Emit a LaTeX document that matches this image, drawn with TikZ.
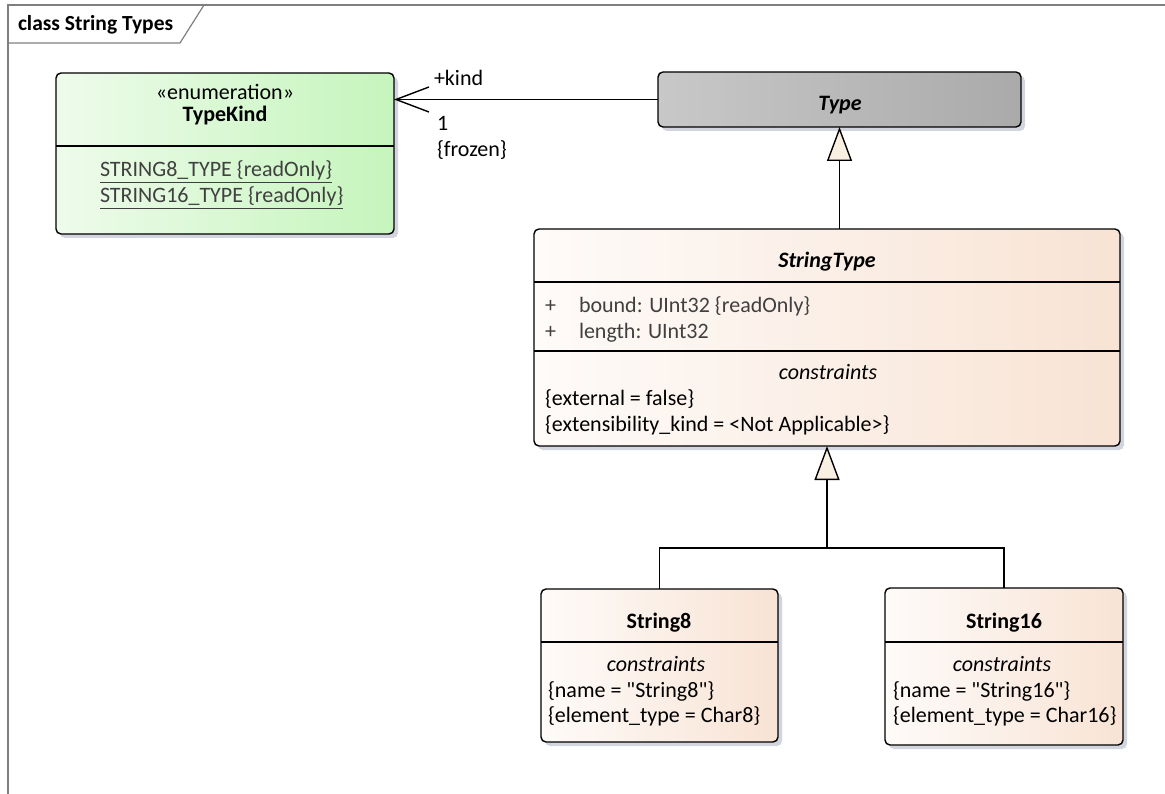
\documentclass[tikz,border=0pt]{standalone}
\usepackage{fontspec}
\setmainfont{Carlito}[Ligatures=TeXOff]
\usetikzlibrary{arrows.meta,shadows}
\definecolor{classL}{HTML}{FEFBF9}
\definecolor{classR}{HTML}{F8E3D4}
\definecolor{typeL}{HTML}{C8C8C8}
\definecolor{typeR}{HTML}{AAAAAA}
\definecolor{enumL}{HTML}{EEFBEB}
\definecolor{enumR}{HTML}{C5F5BC}
\definecolor{shadowc}{HTML}{D2D5DD}
\definecolor{trifill}{HTML}{FAF0E2}
\definecolor{framec}{HTML}{7F7F7F}
\definecolor{attrc}{HTML}{404040}
\begin{document}
\begin{tikzpicture}[x=1pt,y=-1pt,
  box/.style={draw=black,line width=1.4pt,rounded corners=5pt,anchor=north west,
    inner sep=0pt,outer sep=0pt,
    drop shadow={shadow xshift=4pt,shadow yshift=-4pt,fill=shadowc,opacity=1}},
  classbox/.style={box,left color=classL,right color=classR},
  typebox/.style={box,left color=typeL,right color=typeR},
  enumbox/.style={box,left color=enumL,right color=enumR},
  sep/.style={draw=black,line width=1.4pt},
  txt/.style={inner sep=0pt,outer sep=0pt,font=\fontsize{22}{26}\selectfont,anchor=base},
  ltxt/.style={txt,anchor=base west},
  gtxt/.style={ltxt,text=attrc},
  conn/.style={draw=black,line width=1.4pt},
  gen/.style={conn,-{Triangle[length=34pt,width=25pt,fill=trifill,line width=1.4pt]}},
  assoc/.style={conn,-{Straight Barb[length=33pt,width=25pt,line width=1.4pt]}}
]
\useasboundingbox (0,0) rectangle (1165,794);
% frame
\coordinate (fbl) at (8,794);
\coordinate (ftl) at (8,5);
\coordinate (ftr) at (1165,5);
\coordinate (tabb) at (8,43);
\coordinate (tabc) at (180,43);
\coordinate (tabr) at (204,5);
\draw[framec,line width=1.6pt] (fbl) -- (ftl) -- (ftr);
\draw[framec,line width=1.2pt] (tabb) -- (tabc) -- (tabr);
\node[ltxt,font=\fontsize{21.5}{26}\selectfont\bfseries] (title) at (18,31) {class String Types};

% TypeKind
\node[enumbox,minimum width=338pt,minimum height=161pt] (typekind) at (56,73) {};
\draw[sep] (typekind.west |- 0,146) -- (typekind.east |- 0,146);
\node[txt] (tkst) at (225,100) {«enumeration»};
\node[txt,font=\fontsize{22}{26}\selectfont\bfseries] (tkname) at (225,122) {TypeKind};
\node[gtxt] (tk1) at (100,177) {\underline{STRING8\_TYPE \{readOnly\}}};
\node[gtxt] (tk2) at (100,203) {\underline{STRING16\_TYPE \{readOnly\}}};

% Type
\node[typebox,minimum width=363pt,minimum height=55pt] (type) at (658,72) {};
\node[txt,font=\fontsize{22}{26}\selectfont\bfseries\itshape] (typename) at (840,111) {Type};

% StringType
\node[classbox,minimum width=586pt,minimum height=217pt] (stringtype) at (534,229) {};
\draw[sep] (stringtype.west |- 0,282) -- (stringtype.east |- 0,282);
\draw[sep] (stringtype.west |- 0,351) -- (stringtype.east |- 0,351);
\node[txt,font=\fontsize{22}{26}\selectfont\bfseries\itshape] (stname) at (827,268) {StringType};
\node[gtxt] (stp1) at (545,313) {+};
\node[gtxt] (sta1) at (579,313) {bound: UInt32 \{readOnly\}};
\node[gtxt] (stp2) at (545,338) {+};
\node[gtxt] (sta2) at (579,338) {length: UInt32};
\node[txt,font=\fontsize{22}{26}\selectfont\itshape] (stc) at (828,380) {constraints};
\node[ltxt] (stc1) at (545,406) {\{external = false\}};
\node[ltxt] (stc2) at (545,431) {\{extensibility\_kind = <Not Applicable>\}};

% String8
\node[classbox,minimum width=237pt,minimum height=153pt] (string8) at (541,589) {};
\draw[sep] (string8.west |- 0,642) -- (string8.east |- 0,642);
\node[txt,font=\fontsize{22}{26}\selectfont\bfseries] (s8name) at (659,628) {String8};
\node[txt,font=\fontsize{22}{26}\selectfont\itshape] (s8c) at (656,671) {constraints};
\node[ltxt] (s8c1) at (548,697) {\{name = "String8"\}};
\node[ltxt] (s8c2) at (548,722) {\{element\_type = Char8\}};

% String16
\node[classbox,minimum width=238pt,minimum height=157pt] (string16) at (885,588) {};
\draw[sep] (string16.west |- 0,642) -- (string16.east |- 0,642);
\node[txt,font=\fontsize{22}{26}\selectfont\bfseries] (s16name) at (1004,628) {String16};
\node[txt,font=\fontsize{22}{26}\selectfont\itshape] (s16c) at (1002,671) {constraints};
\node[ltxt] (s16c1) at (893,697) {\{name = "String16"\}};
\node[ltxt] (s16c2) at (893,722) {\{element\_type = Char16\}};

% association
\draw[assoc] (type.west) -- (type.west -| typekind.east);
\node[ltxt] (akind) at (434,86) {+kind};
\node[ltxt] (amult) at (437,131) {1};
\node[ltxt] (afrozen) at (437,157) {\{frozen\}};

% generalizations
\draw[gen] (type.south |- stringtype.north) -- (type.south);
\coordinate (junc) at (stringtype.south |- 0,548);
\draw[conn] (string8.north) |- (junc) -| (string16.north);
\draw[gen] (junc) -- (stringtype.south);
\end{tikzpicture}
\end{document}
